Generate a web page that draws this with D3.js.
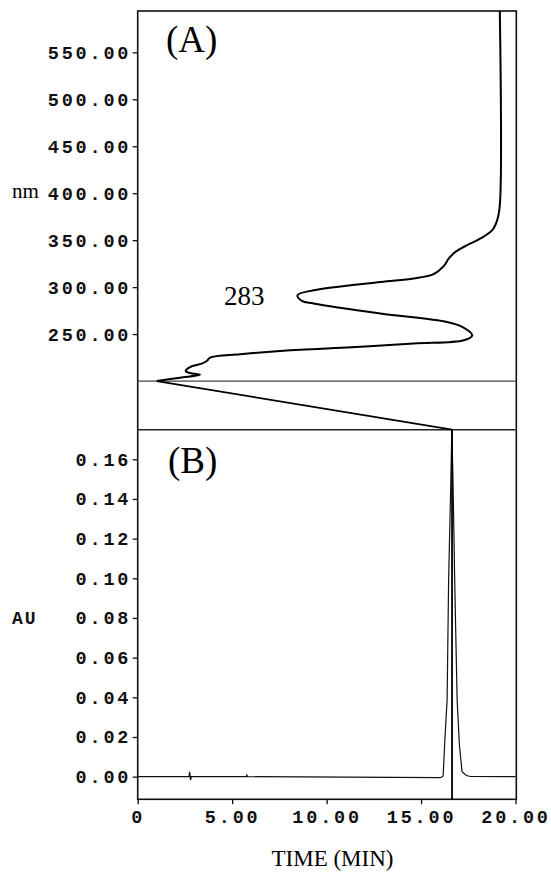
<!DOCTYPE html>
<html>
<head>
<meta charset="utf-8">
<script src="https://cdn.jsdelivr.net/npm/d3@7"></script>
<style>
  body { margin: 0; background: #fff; }
  .tick text { font-family: "Liberation Mono", monospace; font-size: 18.5px; font-weight: bold; letter-spacing: 2.8px; fill: #111; }
</style>
</head>
<body>
<div id="chart"></div>
<script>
// UV spectrum of the peak (top panel), traced from high to low wavelength
const spectrumNm  = [594, 387.3, 371.3, 360.6, 351.8, 344.7, 337.5, 330.5, 322.3, 313.8, 309.2, 305.5,
                     296.7, 291.4, 285.3, 282.5, 271.9, 262.9, 257.6, 248.7, 243.4, 239.9, 235.6, 232.0,
                     228.5, 224.9, 221.3, 218.5, 214.9, 210.7, 208.5, 206.8, 203.6, 200.0];
const spectrumAbs = [19.17, 19.17, 19.03, 18.77, 18.15, 17.44, 16.82, 16.47, 16.20, 15.67, 14.61, 12.85,
                     9.31, 8.46, 8.69, 9.31, 12.85, 16.38, 17.18, 17.71, 17.26, 14.61, 11.08, 7.54,
                     5.42, 3.83, 3.66, 3.39, 2.77, 2.54, 2.77, 3.30, 2.24, 1.01];

// chromatogram (bottom panel)
const chromTime = [0, 2.72, 2.75, 2.80, 2.84, 5.75, 5.78, 5.82, 16.03, 16.17, 16.26, 16.38, 16.46, 16.58, 16.63,
                   16.69, 16.78, 16.91, 17.03, 17.17, 17.40, 17.61, 20];
const chromAU   = [0, 0, 0.0025, -0.0017, 0, 0, 0.0008, 0, -0.0005, 0.0004, 0.0185, 0.0388, 0.0993, 0.150, 0.175,
                   0.150, 0.0993, 0.0388, 0.016, 0.0025, 0.0006, 0.0001, 0];

const peakTime = 16.64;
const peakLabel = "283";

const nmTicks   = [250, 300, 350, 400, 450, 500, 550];
const auTicks   = [0, 0.02, 0.04, 0.06, 0.08, 0.10, 0.12, 0.14, 0.16];
const timeTicks = [0, 5, 10, 15, 20];

const width = 551, height = 877;
const plotL = 137.7, plotR = 515.5, plotT = 11, plotMid = 429.7, plotB = 799.3;

const svg = d3.select("#chart")
  .append("svg")
  .attr("width", width)
  .attr("height", height);

const x = d3.scaleLinear().domain([0, 20]).range([plotL, plotR]);
const yA = d3.scaleLinear().domain([148.2, 594]).range([plotMid, plotT]);
const yB = d3.scaleLinear().domain([-0.0114, 0.1749]).range([plotB, plotMid]);

// axes
const axA = svg.append("g")
  .attr("transform", `translate(${plotL},0)`)
  .call(d3.axisLeft(yA).tickValues(nmTicks).tickFormat(d3.format(".2f")).tickSize(5).tickPadding(4));

const axB = svg.append("g")
  .attr("transform", `translate(${plotL},0)`)
  .call(d3.axisLeft(yB).tickValues(auTicks).tickFormat(d3.format(".2f")).tickSize(5).tickPadding(4));

const axX = svg.append("g")
  .attr("transform", `translate(0,${plotB})`)
  .call(d3.axisBottom(x).tickValues(timeTicks).tickFormat(d => d === 0 ? "0" : d3.format(".2f")(d)).tickSize(5).tickPadding(6));

[axA, axB, axX].forEach(a => {
  a.select(".domain").remove();
  a.selectAll(".tick line").attr("stroke", "#111").attr("stroke-width", 1.3);
});
axA.selectAll(".tick text").attr("dx", "2.5px");
axB.selectAll(".tick text").attr("dx", "2.5px");

// frame
svg.append("rect")
  .attr("x", plotL).attr("y", plotT)
  .attr("width", plotR - plotL + 0.8).attr("height", plotB - plotT)
  .attr("fill", "none").attr("stroke", "#111").attr("stroke-width", 1.6);

svg.append("line")
  .attr("x1", plotL).attr("x2", plotR)
  .attr("y1", plotMid).attr("y2", plotMid)
  .attr("stroke", "#222").attr("stroke-width", 1.4);

svg.append("line")
  .attr("x1", plotL).attr("x2", plotR)
  .attr("y1", yA(200)).attr("y2", yA(200))
  .attr("stroke", "#444").attr("stroke-width", 1.2);

// spectrum
const spectrum = spectrumNm.map((nm, i) => ({ nm: nm, v: spectrumAbs[i] }));
const specLine = d3.line()
  .x(d => x(d.v))
  .y(d => yA(d.nm))
  .curve(d3.curveCatmullRom);

svg.append("path")
  .datum(spectrum)
  .attr("fill", "none")
  .attr("stroke", "#000")
  .attr("stroke-width", 2)
  .attr("stroke-linejoin", "round")
  .attr("d", specLine);

// connector from spectrum to peak apex
const last = spectrum[spectrum.length - 1];
svg.append("line")
  .attr("x1", x(last.v)).attr("y1", yA(last.nm))
  .attr("x2", x(peakTime)).attr("y2", yA(148.2))
  .attr("stroke", "#000").attr("stroke-width", 1.8);

// chromatogram
const chrom = chromTime.map((t, i) => ({ t: t, au: chromAU[i] }));
svg.append("path")
  .datum(chrom)
  .attr("fill", "none")
  .attr("stroke", "#111")
  .attr("stroke-width", 1.2)
  .attr("d", d3.line().x(d => x(d.t)).y(d => yB(d.au)));

svg.append("line")
  .attr("x1", x(peakTime)).attr("x2", x(peakTime))
  .attr("y1", plotMid).attr("y2", plotB)
  .attr("stroke", "#000").attr("stroke-width", 1.8);

// labels
svg.append("text")
  .attr("x", 166).attr("y", 52)
  .attr("font-family", "Liberation Serif, serif").attr("font-size", 37)
  .text("(A)");

svg.append("text")
  .attr("x", 168).attr("y", 473)
  .attr("font-family", "Liberation Serif, serif").attr("font-size", 37)
  .text("(B)");

svg.append("text")
  .attr("x", 224).attr("y", 305)
  .attr("font-family", "Liberation Serif, serif").attr("font-size", 27)
  .text(peakLabel);

svg.append("text")
  .attr("x", 12).attr("y", 198)
  .attr("font-family", "Liberation Serif, serif").attr("font-size", 21)
  .text("nm");

svg.append("text")
  .attr("x", 12).attr("y", 624)
  .attr("font-family", "Liberation Mono, monospace").attr("font-size", 18)
  .attr("font-weight", "bold")
  .attr("letter-spacing", "2px").attr("fill", "#111")
  .text("AU");

svg.append("text")
  .attr("x", 332.5).attr("y", 866)
  .attr("text-anchor", "middle")
  .attr("font-family", "Liberation Serif, serif").attr("font-size", 23)
  .text("TIME (MIN)");
</script>
</body>
</html>
